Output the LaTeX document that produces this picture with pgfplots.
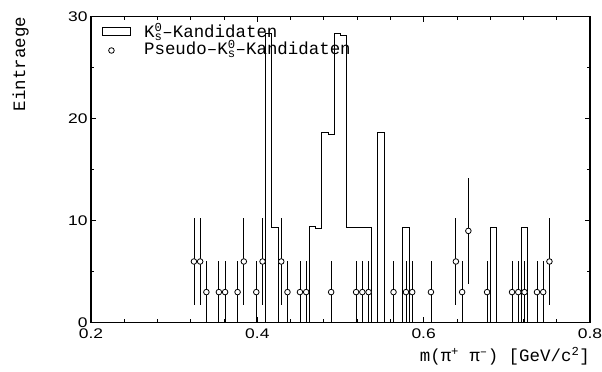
\documentclass[border=0pt]{standalone}
\usepackage{fontspec}
\setmainfont{Liberation Mono}
\newfontfamily\ticksfont[FakeStretch=1.25]{Liberation Sans}
\usepackage{pgfplots}
\pgfplotsset{compat=1.18}

% K0s candidates: left bin edges (bin width 0.0075) and weighted entries
\pgfplotstableread{
x       y
0.4025  0
0.4100  28.35
0.4175  9.35
0.4250  0
0.4325  0
0.4400  0
0.4475  0
0.4550  0
0.4625  9.45
0.4700  9.20
0.4775  18.70
0.4850  18.45
0.4925  28.35
0.5000  28.15
0.5075  9.35
0.5150  9.35
0.5225  9.35
0.5300  9.35
0.5375  0
0.5450  18.70
0.5525  0
0.5600  0
0.5675  0
0.5750  9.30
0.5825  0
0.5900  0
0.6725  0
0.6800  9.30
0.6875  0
0.7100  0
0.7175  9.30
0.7250  0
}\kshist

% pseudo candidates: bin centres, entries and errors
\pgfplotstableread{
x        y   e
0.32375  6   4.243
0.33125  6   4.243
0.33875  3   3
0.35375  3   3
0.36125  3   3
0.37625  3   3
0.38375  6   4.243
0.39875  3   3
0.40625  6   4.243
0.42875  6   4.243
0.43625  3   3
0.45125  3   3
0.45875  3   3
0.48875  3   3
0.51875  3   3
0.52625  3   3
0.53375  3   3
0.56375  3   3
0.57875  3   3
0.58625  3   3
0.60875  3   3
0.63875  6   4.243
0.64625  3   3
0.65375  9   5.196
0.67625  3   3
0.70625  3   3
0.71375  3   3
0.72125  3   3
0.73625  3   3
0.74375  3   3
0.75125  6   4.243
}\pseudo

% legend text in boxes of equal width, so both rows start at the same place
\newcommand\legtext[1]{\makebox[212bp][l]{#1}}

\begin{document}
\begin{tikzpicture}
\useasboundingbox (-91bp,-49.3bp) rectangle (511bp,322.7bp);
\begin{axis}[
  at={(0,0)}, anchor=south west,
  scale only axis, width=499bp, height=306bp,
  xmin=0.2, xmax=0.8, ymin=0, ymax=30,
  xtick={0.2,0.4,0.6,0.8}, ytick={0,10,20,30},
  minor x tick num=4, minor y tick num=1,
  tick align=inside,
  major tick length=5.5bp, minor tick length=3.5bp,
  axis line style={line width=1.1bp},
  every tick/.style={black, line width=0.8bp},
  /pgf/number format/assume math mode=true,
  tick label style={font=\ticksfont\fontsize{14}{16}\selectfont},
  xticklabel style={yshift=-3bp},
  xlabel={m(π\textsuperscript{+} π\textsuperscript{--}) [GeV/c\textsuperscript{2}]},
  xlabel style={at={(rel axis cs:1,0)}, anchor=north east, inner sep=0pt,
    yshift=-24.5bp, font=\fontsize{17.5}{20}\selectfont},
  ylabel={\fontsize{17.5}{19}\selectfont Eintraege},
  ylabel style={at={([xshift=-62bp]rel axis cs:0,1)}, anchor=south east,
    inner sep=0pt},
  legend style={at={(rel axis cs:0,1)}, anchor=north west,
    xshift=11.3bp, yshift=-8.6bp, draw=none, fill=none, inner sep=0pt,
    row sep=1bp, column sep=12.7bp,
    font=\fontsize{17.5}{20}\selectfont,
    nodes={inner sep=0pt, anchor=west, text height=12bp, text depth=4bp}},
  legend cell align=left,
]
\addplot[const plot mark left, black, line width=0.9bp, mark=none,
  legend image code/.code={\draw[black, line width=0.9bp] (0bp,-2.2bp) rectangle (28bp,6.1bp);}]
  table[x=x, y=y] {\kshist};
\addlegendentry{\legtext{K\rlap{\textsuperscript{0}}\textsubscript{s}–Kandidaten}}

\addplot[only marks, mark=*, mark size=2.8bp,
  mark options={draw=black, fill=white, line width=0.8bp},
  error bars/.cd, y dir=both, y explicit, error mark=none,
  error bar style={black, line width=0.8bp}]
  table[x=x, y=y, y error=e] {\pseudo};
\addlegendimage{legend image code/.code={\path (0bp,0bp) -- (28bp,0bp);
  \draw[black, fill=white, line width=0.8bp] (12.7bp,0bp) circle (2.5bp);}}
\addlegendentry{\legtext{Pseudo–K\rlap{\textsuperscript{0}}\textsubscript{s}–Kandidaten}}
\end{axis}
\end{tikzpicture}
\end{document}
